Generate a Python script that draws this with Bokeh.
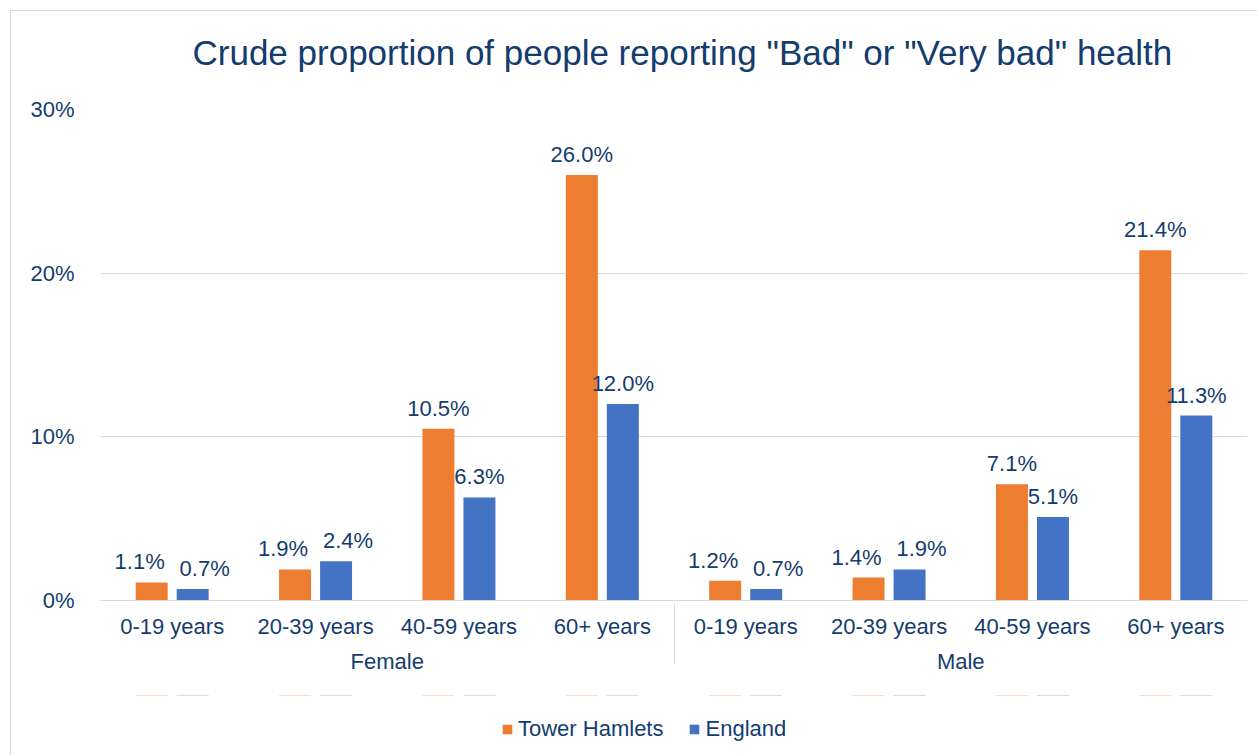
from bokeh.plotting import figure
from bokeh.layouts import column
from bokeh.models import (ColumnDataSource, FactorRange, LabelSet, Legend, LegendItem,
                          NumeralTickFormatter, FixedTicker, Range1d)
from bokeh.core.properties import value
from bokeh.transform import dodge
from bokeh.embed import file_html
from bokeh.resources import INLINE

genders = ["Female", "Male"]
ages = ["0-19 years", "20-39 years", "40-59 years", "60+ years"]
series = ["Tower Hamlets", "England"]
tower_hamlets = [0.011, 0.019, 0.105, 0.260, 0.012, 0.014, 0.071, 0.214]
england = [0.007, 0.024, 0.063, 0.120, 0.007, 0.019, 0.051, 0.113]
y_ticks = [0.0, 0.10, 0.20, 0.30]
TITLE = 'Crude proportion of people reporting "Bad" or "Very bad" health'

TEXT = "#143C6E"
ORANGE = "#ED7D31"
BLUE = "#4472C4"
GRID = "#D9D9D9"
FONT = "Liberation Sans"
FS = "22px"

FRAME_H = 491
Y_MAX = 0.30

factors = [(g, a) for g in genders for a in ages]
# labels of a pair that sit at nearly the same height are pushed apart (as Excel does)
shift = [12 if abs(a - b) * FRAME_H / Y_MAX < 26 else 0
         for a, b in zip(tower_hamlets, england)]
src = ColumnDataSource(dict(
    x=factors,
    th=tower_hamlets,
    en=england,
    th_lbl=[f"{v*100:.1f}%" for v in tower_hamlets],
    en_lbl=[f"{v*100:.1f}%" for v in england],
    th_dx=[-s for s in shift],
    en_dx=shift,
))

xr = FactorRange(*factors, factor_padding=0, group_padding=0,
                 subgroup_padding=0, range_padding=0)

# ---- title strip
hf = figure(width=1246, height=85, output_backend="svg", toolbar_location=None,
            x_range=Range1d(0, 1), y_range=Range1d(0, 1), min_border=0,
            outline_line_color=None, title=TITLE)
hf.axis.visible = False
hf.grid.visible = False
hf.title.text_font = FONT
hf.title.text_font_size = "35px"
hf.title.text_font_style = "normal"
hf.title.text_color = TEXT
hf.title.align = "left"
hf.title.offset = 92
hf.title.standoff = 38

# ---- main chart
p = figure(frame_width=1147, frame_height=FRAME_H, output_backend="svg", toolbar_location=None,
           x_range=xr, y_range=Range1d(0, Y_MAX))
p.min_border_left = 89
p.min_border_right = 10
p.min_border_top = 13
p.min_border_bottom = 95
p.outline_line_color = None
p.background_fill_color = "white"
p.border_fill_color = "white"

bw = 0.223
off = 0.143
p.vbar(x=dodge("x", -off, range=xr), top="th", width=bw, source=src,
       fill_color=ORANGE, line_color=None)
p.vbar(x=dodge("x", off, range=xr), top="en", width=bw, source=src,
       fill_color=BLUE, line_color=None)

for fld, lbl, d, dx in (("th", "th_lbl", -off, "th_dx"), ("en", "en_lbl", off, "en_dx")):
    p.add_layout(LabelSet(x=dodge("x", d, range=xr), y=fld, text=lbl, source=src,
                          x_offset=dx,
                          text_align="center", text_baseline="bottom", y_offset=8,
                          text_font=value(FONT), text_font_size=value(FS),
                          text_color=TEXT))

p.yaxis.ticker = FixedTicker(ticks=y_ticks)
p.yaxis.formatter = NumeralTickFormatter(format="0%")
p.yaxis.axis_line_color = None
p.yaxis.major_tick_line_color = None
p.yaxis.minor_tick_line_color = None
p.yaxis.major_label_text_font = FONT
p.yaxis.major_label_text_font_size = FS
p.yaxis.major_label_text_color = TEXT
p.yaxis.major_label_standoff = 20

p.ygrid.grid_line_color = GRID
p.ygrid.grid_line_width = 1
p.xgrid.grid_line_color = None

xa = p.xaxis[0]
xa.axis_line_color = GRID
xa.major_tick_line_color = None
xa.minor_tick_line_color = None
xa.major_label_text_font = FONT
xa.major_label_text_font_size = FS
xa.major_label_text_color = TEXT
xa.major_label_standoff = 7
xa.group_text_font = FONT
xa.group_text_font_size = FS
xa.group_text_font_style = "normal"
xa.group_text_color = TEXT
xa.separator_line_color = GRID
xa.separator_line_width = 1

# ---- legend strip (same bars, drawn far outside its visible y range; only the legend shows)
lf = figure(width=1246, height=60, output_backend="svg", toolbar_location=None,
            x_range=xr, y_range=Range1d(-100, -99),
            min_border=0, outline_line_color=None)
lf.axis.visible = False
lf.grid.visible = False
l1 = lf.vbar(x=dodge("x", -off, range=xr), top="th", width=bw, source=src,
             fill_color=ORANGE, line_color=None)
l2 = lf.vbar(x=dodge("x", off, range=xr), top="en", width=bw, source=src,
             fill_color=BLUE, line_color=None)
legend = Legend(items=[LegendItem(label=series[0], renderers=[l1]),
                       LegendItem(label=series[1], renderers=[l2])],
                orientation="horizontal", location=(401, 13),
                label_text_font=FONT, label_text_font_size=FS,
                label_text_color=TEXT, glyph_width=12, glyph_height=12,
                label_standoff=5, spacing=25, border_line_color=None,
                background_fill_alpha=0, margin=0, padding=6)
lf.add_layout(legend, "center")

layout = column(hf, p, lf, spacing=0)
layout.styles = {"border-left": "1px solid #D9D9D9", "border-top": "1px solid #D9D9D9",
                 "margin-left": "10px", "margin-top": "10px"}

open("out.html", "w").write(file_html(layout, INLINE))
